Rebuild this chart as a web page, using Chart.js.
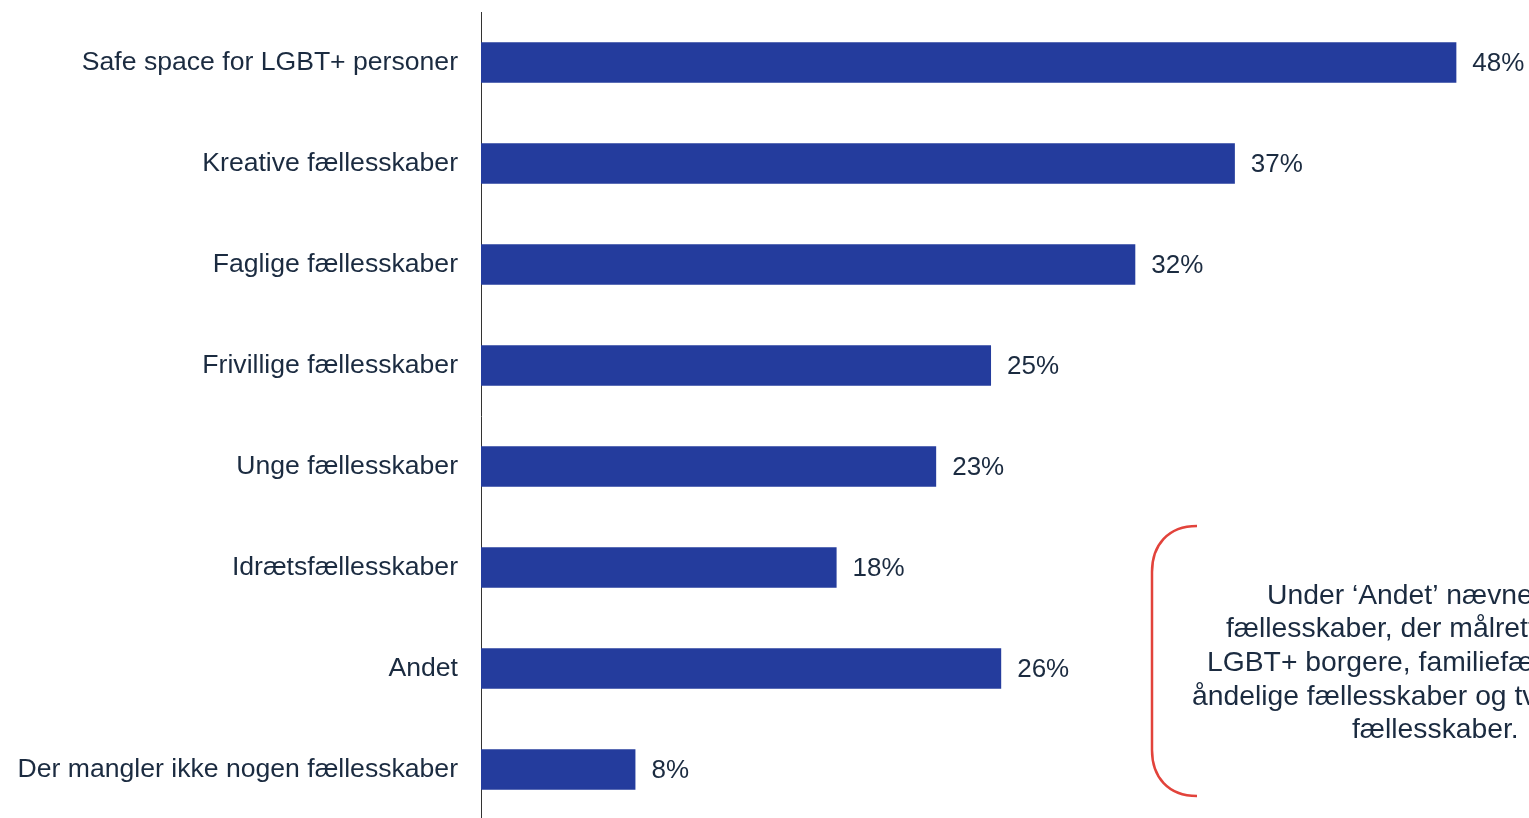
<!DOCTYPE html>
<html>
<head>
<meta charset="utf-8">
<script src="https://cdn.jsdelivr.net/npm/chart.js@4"></script>
<style>
  html, body { margin: 0; padding: 0; background: #ffffff; overflow: hidden; }
  #wrap { width: 1529px; height: 820px; position: relative; }
</style>
</head>
<body>
<div id="wrap"><canvas id="chart"></canvas></div>
<script>
// categories, top to bottom
var categories = [
    'Safe space for LGBT+ personer',
    'Kreative fællesskaber',
    'Faglige fællesskaber',
    'Frivillige fællesskaber',
    'Unge fællesskaber',
    'Idrætsfællesskaber',
    'Andet',
    'Der mangler ikke nogen fællesskaber'
];
// bar lengths (percent)
var shares = [48.0, 37.1, 32.2, 25.1, 22.4, 17.5, 25.6, 7.6];
// labels as printed next to the bars
var shareLabels = ['48%', '37%', '32%', '25%', '23%', '18%', '26%', '8%'];
var noteLines = [
    'Under ‘Andet’ nævnes bl.a.',
    'fællesskaber, der målrettes ældre',
    'LGBT+ borgere, familiefællesskaber,',
    'åndelige fællesskaber og tværkulturelle',
    'fællesskaber.'
];

var textColor = '#1b2b40';
var barColor = '#243c9d';
var font = '"Liberation Sans", Arial, sans-serif';

var valueLabels = {
    id: 'valueLabels',
    afterDatasetsDraw: function(chart) {
        var ctx = chart.ctx;
        var meta = chart.getDatasetMeta(0);
        ctx.save();
        ctx.font = '26px ' + font;
        ctx.fillStyle = textColor;
        ctx.textAlign = 'left';
        ctx.textBaseline = 'middle';
        meta.data.forEach(function(bar, i) {
            ctx.fillText(shareLabels[i], bar.x + 16, bar.y + 1.5);
        });
        ctx.restore();
    }
};

var note = {
    id: 'note',
    afterDraw: function(chart) {
        var ctx = chart.ctx;
        ctx.save();
        // red brace
        ctx.strokeStyle = '#e2433b';
        ctx.lineWidth = 2.5;
        ctx.beginPath();
        ctx.moveTo(1197, 526);
        ctx.bezierCurveTo(1168, 526, 1152, 545, 1152, 572);
        ctx.lineTo(1152, 750);
        ctx.bezierCurveTo(1152, 777, 1168, 796, 1197, 796);
        ctx.stroke();
        // text, cut off by the right edge like the original
        ctx.font = '28.3px ' + font;
        ctx.fillStyle = textColor;
        ctx.textAlign = 'left';
        ctx.textBaseline = 'middle';
        var starts = [1267, 1226, 1207, 1192, 1352];
        noteLines.forEach(function(line, i) {
            ctx.fillText(line, starts[i], 596 + i * 33.6);
        });
        ctx.restore();
    }
};

new Chart(document.getElementById('chart'), {
    type: 'bar',
    data: {
        labels: categories,
        datasets: [{
            data: shares,
            backgroundColor: barColor,
            borderWidth: 0,
            categoryPercentage: 1,
            barPercentage: 0.4
        }]
    },
    options: {
        indexAxis: 'y',
        responsive: true,
        maintainAspectRatio: false,
        animation: false,
        devicePixelRatio: 1,
        layout: { padding: { top: 12, bottom: 0, left: 0, right: 32 } },
        plugins: {
            legend: { display: false },
            tooltip: { enabled: false }
        },
        scales: {
            x: {
                display: false,
                min: 0,
                max: 50
            },
            y: {
                afterFit: function(scale) {
                    scale.width = 481;
                    scale.paddingTop = 0;
                    scale.paddingBottom = 0;
                },
                grid: { display: false },
                border: { display: true, color: '#333333', width: 1 },
                ticks: {
                    color: textColor,
                    padding: 15,
                    font: { size: 26.6, family: font }
                }
            }
        }
    },
    plugins: [valueLabels, note]
});
</script>
</body>
</html>
